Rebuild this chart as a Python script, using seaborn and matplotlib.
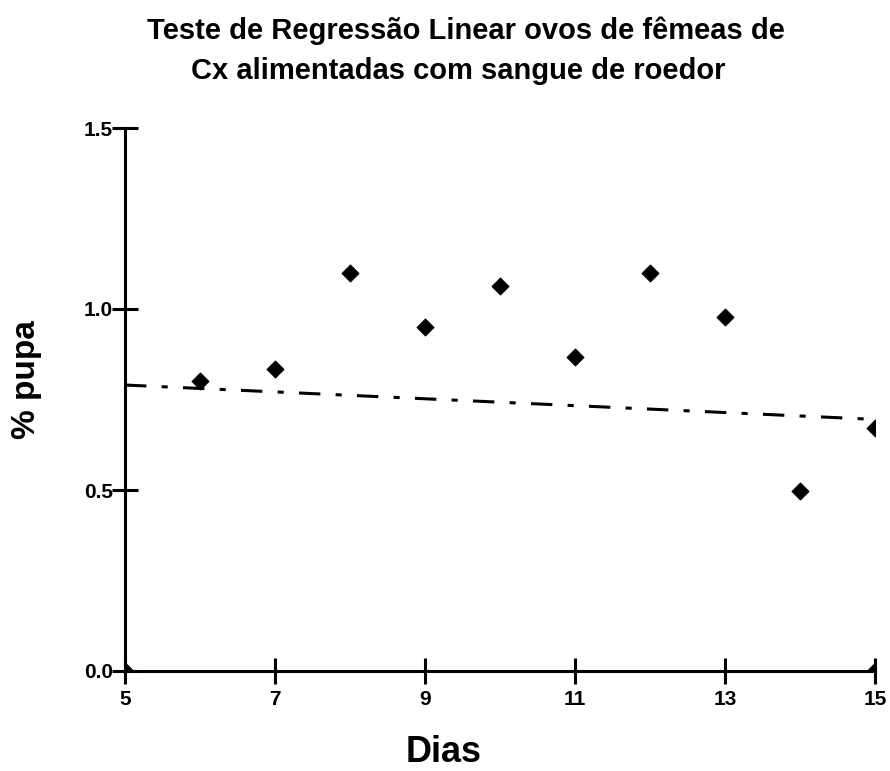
import matplotlib
matplotlib.use("Agg")
import matplotlib.pyplot as plt
import seaborn as sns
import pandas as pd

# Data
dias = [5, 6, 7, 8, 9, 10, 11, 12, 13, 14, 15, 15]
pupa = [0.0, 0.80, 0.835, 1.10, 0.95, 1.063, 0.868, 1.10, 0.978, 0.496, 0.672, 0.0]
reg_x = [5, 15]
reg_y = [0.79, 0.695]
x_ticks = [5, 7, 9, 11, 13, 15]
y_ticks = [0.0, 0.5, 1.0, 1.5]
y_tick_labels = ["0.0", "0.5", "1.0", "1.5"]
title_lines = ["Teste de Regressão Linear ovos de fêmeas de",
               "Cx alimentadas com sangue de roedor"]

sns.set_theme(style="white")
plt.rcParams['font.family'] = ['Liberation Sans', 'DejaVu Sans']
plt.rcParams['text.color'] = 'black'

df = pd.DataFrame({"Dias": dias, "pupa": pupa})
reg = pd.DataFrame({"x": reg_x, "y": reg_y})

W, H = 890, 771
fig = plt.figure(figsize=(W/100, H/100), dpi=100)
ax = fig.add_axes([125/W, 1-671/H, 750/W, 543/H])

sns.lineplot(data=reg, x="x", y="y", ax=ax, color="black", linewidth=2.2,
             linestyle=(0, (7, 5, 2, 5)))
sns.scatterplot(data=df, x="Dias", y="pupa", ax=ax, marker="D", s=75,
                color="black", edgecolor="black", clip_on=True, zorder=3)

ax.set_xlim(5, 15)
ax.set_ylim(0, 1.5)
ax.set_xticks(x_ticks)
ax.set_yticks(y_ticks)
ax.set_yticklabels(y_tick_labels)
for s in ["top", "right"]:
    ax.spines[s].set_visible(False)
for s in ["left", "bottom"]:
    ax.spines[s].set_linewidth(2.2)
    ax.spines[s].set_color("black")
ax.tick_params(axis="both", which="major", bottom=True, left=True,
               direction="inout", length=19, width=2.2,
               colors="black", labelcolor="black", labelsize=15)
ax.tick_params(axis="x", pad=4)
ax.tick_params(axis="y", pad=-1)
for lbl in ax.get_xticklabels() + ax.get_yticklabels():
    lbl.set_fontweight("bold")

ax.set_xlabel("")
ax.set_ylabel("")
fig.text(444/W, 1-762/H, "Dias", ha="center", va="baseline", fontsize=26,
         fontweight="bold", color="black")
fig.text(27/W, 1-380/H, "% pupa", ha="center", va="center", rotation=90,
         fontsize=24, fontweight="bold", color="black")

fig.text(466/W, 1-39/H, title_lines[0], ha="center", va="baseline",
         fontsize=21, fontweight="bold", color="black")
fig.text(458/W, 1-79/H, title_lines[1], ha="center", va="baseline",
         fontsize=21, fontweight="bold", color="black")

fig.savefig("out.png", dpi=100)
